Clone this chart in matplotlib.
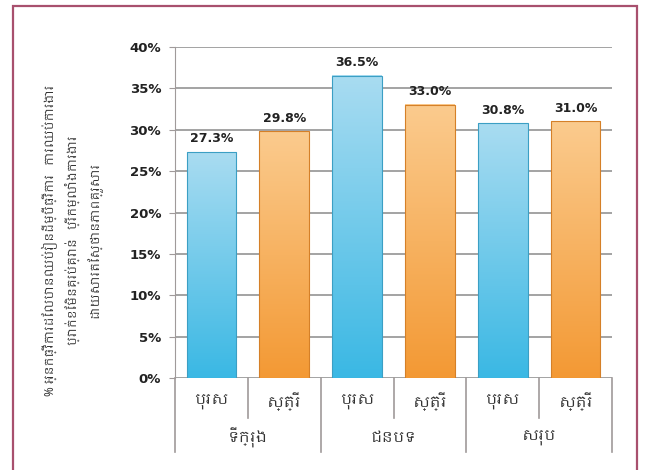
import matplotlib
matplotlib.use("Agg")
import matplotlib.pyplot as plt
import numpy as np
from matplotlib import font_manager
from matplotlib.colors import LinearSegmentedColormap
from matplotlib.patches import Rectangle

groups = ["ទីក្រុង", "ជនបទ", "សរុប"]
sexes = ["បុរស", "ស្ត្រី"]
male = [27.3, 36.5, 30.8]
female = [29.8, 33.0, 31.0]
yticks = [0, 5, 10, 15, 20, 25, 30, 35, 40]
ylabel_lines = [
    "% អ្នកធ្វើការដែលបានឈប់រៀនដើម្បីធ្វើការ   ការឈប់ការងារ",
    "ប្រាក់ខែមិនគ្រប់គ្រាន់   ប្រើកម្លាំងការងារ",
    "ដោយសារតែស្ថានភាពគ្រួសារ",
]

# use a Khmer face if the machine has one, otherwise plain DejaVu
khmer = [f.name for f in font_manager.fontManager.ttflist if "Khmer" in f.name]
families = (khmer[:1] if khmer else []) + ["DejaVu Sans"]
plt.rcParams["font.family"] = families

W, H = 648, 470
fig = plt.figure(figsize=(W / 100, H / 100), dpi=100)
fig.patch.set_facecolor("white")

# crimson frame
fig.add_artist(Rectangle((13 / W, -0.05), 624 / W, 1.05 - 6 / H, transform=fig.transFigure,
                         fill=False, edgecolor="#a8506e", linewidth=1.6))

x0, x1, y0, y1 = 175, 612, 378, 47
ax = fig.add_axes([x0 / W, 1 - y0 / H, (x1 - x0) / W, (y0 - y1) / H])

blue = LinearSegmentedColormap.from_list("b", ["#3ab8e4", "#a9dcf1"])
orange = LinearSegmentedColormap.from_list("o", ["#f39934", "#fbcb8e"])
grad = np.linspace(0, 1, 256).reshape(-1, 1)

vals = []
for m, f in zip(male, female):
    vals += [(m, blue, "#3b9fc4"), (f, orange, "#d58028")]

bw = 0.68
for i, (v, cmap, ec) in enumerate(vals):
    ax.imshow(grad, cmap=cmap, origin="lower", aspect="auto",
              extent=(i - bw / 2, i + bw / 2, 0, v), zorder=3)
    ax.add_patch(Rectangle((i - bw / 2, 0), bw, v, fill=False, edgecolor=ec,
                           linewidth=0.8, zorder=4))
    ax.text(i, v + 0.8, f"{v:.1f}%", ha="center", va="bottom", fontsize=9,
            fontweight="bold", color="#222222", family="DejaVu Sans", zorder=5)

ax.set_xlim(-0.5, len(vals) - 0.5)
ax.set_ylim(0, 40)
ax.set_yticks(yticks)
ax.set_yticklabels([f"{t}%" for t in yticks], fontsize=9.5, fontweight="bold",
                   family="DejaVu Sans", color="#222222")
ax.yaxis.grid(True, color="#8a8a8a", linewidth=1.1, zorder=0)
ax.set_axisbelow(True)
ax.set_xticks([])
for s in ("top", "right", "bottom"):
    ax.spines[s].set_visible(False)
ax.spines["left"].set_color("#a09a9a")
ax.tick_params(axis="y", length=4, color="#a09a9a", pad=6)
ax.set_facecolor("none")

# multi-level category axis drawn below the plot
trans = ax.get_xaxis_transform()
line_kw = dict(color="#a09a9a", linewidth=1.2, transform=trans, clip_on=False)
short_bot = -(418 - y0) / (y0 - y1)
long_bot = -(452 - y0) / (y0 - y1)
for k in range(len(vals) + 1):
    xk = k - 0.5
    bottom = long_bot if k % 2 == 0 else short_bot
    ax.plot([xk, xk], [0, bottom], **line_kw)

sub_y = -(401 - y0) / (y0 - y1)
grp_y = -(437 - y0) / (y0 - y1)
for i in range(len(vals)):
    ax.text(i, sub_y, sexes[i % 2], ha="center", va="center", fontsize=11,
            color="#333333", transform=trans)
for g, name in enumerate(groups):
    ax.text(2 * g + 0.5, grp_y, name, ha="center", va="center", fontsize=11,
            fontweight="bold", color="#333333", transform=trans)

fig.text(72 / W, 1 - 240 / H, "\n".join(ylabel_lines), rotation=90,
         ha="center", va="center", fontsize=8.5, color="#333333",
         linespacing=1.6, multialignment="center")

fig.savefig("out.png", dpi=100, facecolor="white")
